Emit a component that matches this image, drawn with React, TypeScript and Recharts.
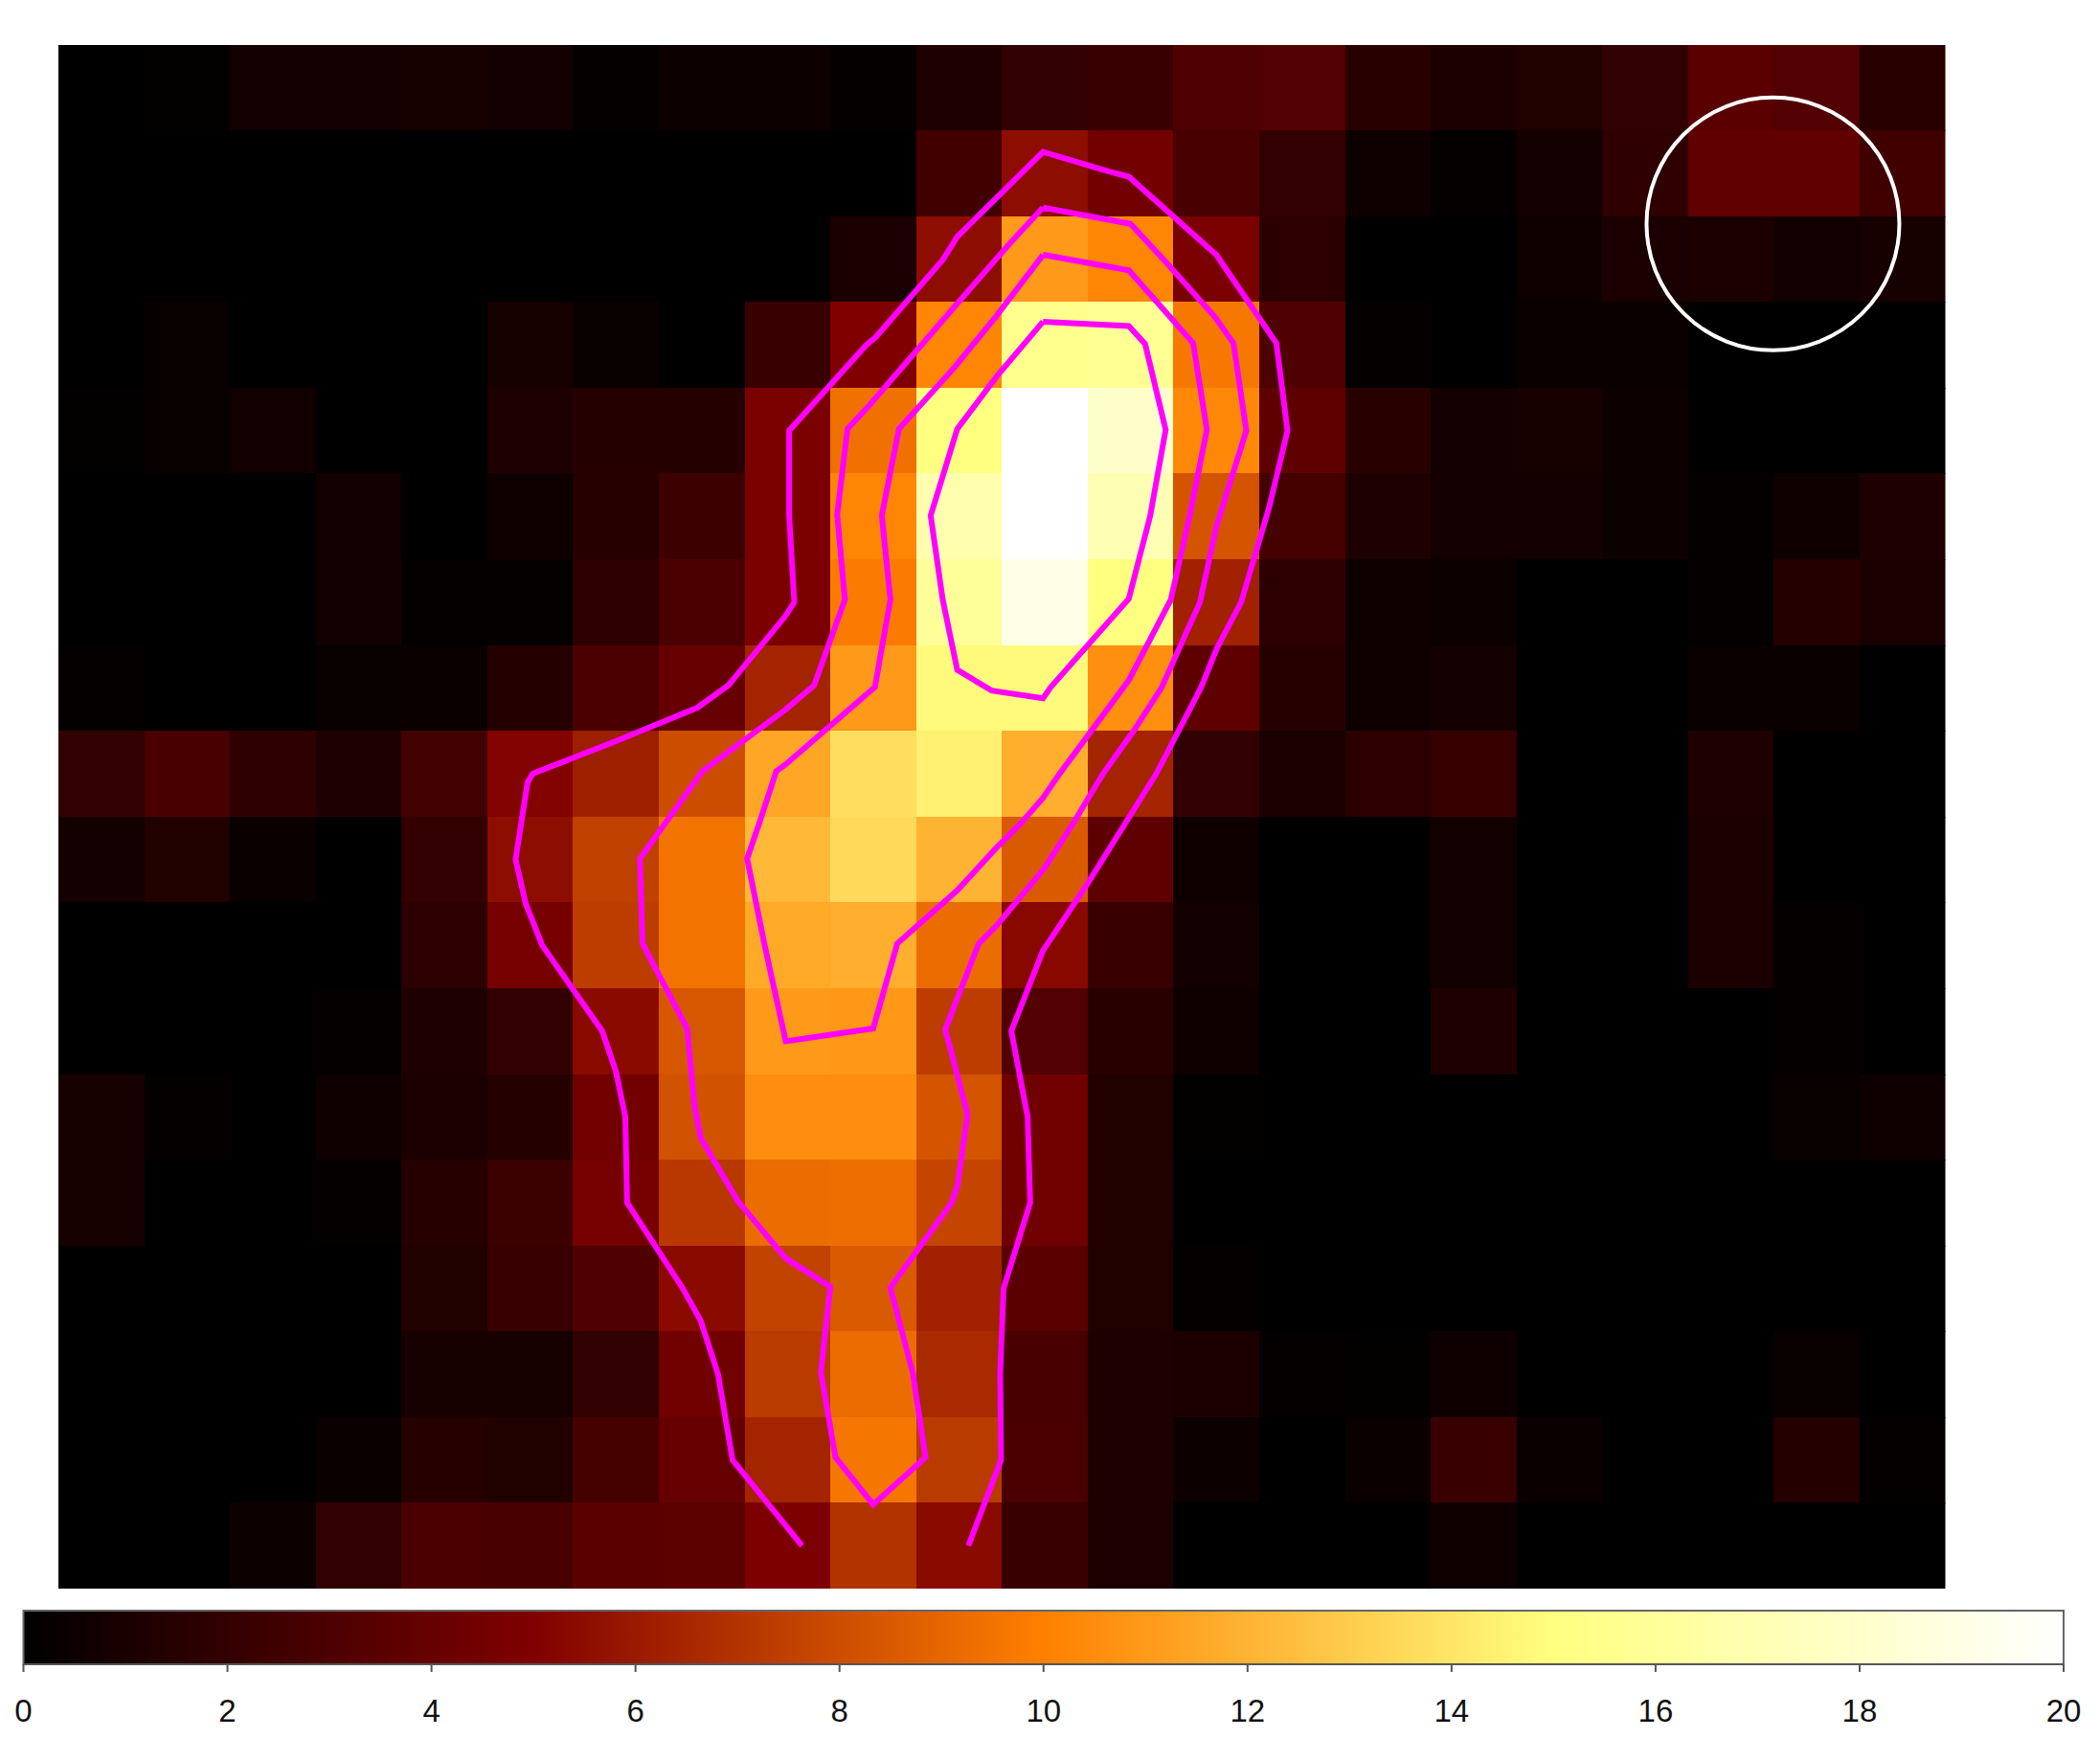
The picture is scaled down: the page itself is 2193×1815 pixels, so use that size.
import React from "react";
import {
  ScatterChart,
  Scatter,
  XAxis,
  YAxis,
  ReferenceDot,
  ReferenceArea,
  ComposedChart,
  Area,
} from "recharts";

// Image rows, top to bottom, 22 columns each (values on the 0-20 colour scale)
const row00 = [0, 0.1, 0.8, 0.8, 0.9, 0.8, 0.2, 0.5, 0.5, 0.2, 1.2, 1.9, 2.2, 3.1, 3.2, 1.6, 1.1, 1.3, 1.9, 3.5, 3.2, 1.6];
const row01 = [0, 0, 0, 0, 0.05, 0.05, 0, 0, 0, 0, 2.5, 5.5, 4.5, 2.8, 2.0, 0.6, 0.2, 0.8, 1.8, 3.8, 3.8, 2.5];
const row02 = [0, 0, 0, 0, 0, 0, 0, 0, 0, 1.0, 5.5, 11.0, 10.2, 4.8, 1.7, 0, 0, 0.6, 1.0, 1.1, 0.7, 0.9];
const row03 = [0, 0.3, 0, 0, 0, 0.9, 0.3, 0, 2.2, 5.0, 10.2, 15.5, 15.8, 9.7, 3.1, 0.2, 0, 0.4, 0.4, 0, 0, 0];
const row04 = [0.1, 0.3, 0.7, 0, 0, 1.2, 1.4, 1.4, 4.8, 9.4, 15.0, 20, 18.0, 10.3, 3.7, 1.6, 0.8, 0.9, 0.5, 0, 0, 0];
const row05 = [0, 0, 0, 0.7, 0, 0.6, 1.5, 2.4, 4.8, 10.2, 16.8, 20, 17.0, 8.3, 2.7, 1.2, 0.8, 0.8, 0.5, 0.2, 0.6, 1.2];
const row06 = [0, 0, 0, 0.7, 0.2, 0.2, 1.7, 2.9, 4.8, 9.8, 16.0, 19.0, 15.0, 6.3, 1.7, 0.6, 0.5, 0, 0, 0.2, 1.4, 1.0];
const row07 = [0.2, 0, 0, 0.3, 0.4, 1.4, 2.9, 4.0, 6.4, 11.0, 14.8, 14.8, 10.6, 3.7, 1.5, 0.6, 0.8, 0, 0, 0.4, 0.4, 0];
const row08 = [2.0, 2.8, 1.8, 1.2, 2.6, 5.1, 6.2, 8.0, 11.5, 13.7, 14.4, 11.8, 6.4, 1.9, 1.0, 1.7, 2.1, 0, 0, 1.2, 0, 0];
const row09 = [0.8, 1.3, 0.4, 0, 2.0, 5.5, 7.5, 9.5, 12.2, 13.5, 12.0, 8.5, 3.7, 0.6, 0, 0, 0.7, 0, 0, 1.0, 0, 0];
const row10 = [0, 0, 0, 0, 1.7, 4.6, 7.4, 9.5, 11.6, 11.8, 9.2, 5.3, 2.2, 0.7, 0, 0, 0.7, 0, 0, 1.0, 0.2, 0];
const row11 = [0, 0, 0, 0.2, 1.2, 2.0, 5.4, 8.4, 11.0, 10.9, 7.4, 3.2, 1.6, 0.6, 0, 0, 1.2, 0, 0, 0, 0.2, 0];
const row12 = [0.9, 0.2, 0, 0.6, 1.1, 1.4, 4.5, 8.2, 10.5, 10.5, 8.3, 4.4, 1.3, 0.1, 0, 0, 0, 0, 0, 0, 0.3, 0.6];
const row13 = [0.9, 0, 0, 0.2, 1.5, 2.3, 4.6, 7.2, 9.2, 9.3, 7.7, 4.4, 1.3, 0, 0, 0, 0, 0, 0, 0, 0, 0];
const row14 = [0, 0, 0, 0, 1.3, 2.2, 3.1, 5.4, 7.6, 8.5, 6.3, 3.5, 1.3, 0.2, 0, 0, 0, 0, 0, 0, 0, 0];
const row15 = [0, 0, 0, 0, 0.9, 0.9, 1.9, 4.4, 7.3, 9.2, 6.6, 2.8, 1.2, 1.1, 0.2, 0.1, 0.6, 0, 0, 0, 0.3, 0];
const row16 = [0, 0, 0, 0.4, 1.5, 1.3, 2.7, 4.0, 6.4, 9.6, 7.3, 2.9, 1.2, 0.5, 0, 0.4, 2.2, 0.4, 0, 0, 1.4, 0.2];
const row17 = [0, 0, 0.5, 1.9, 2.9, 2.8, 3.5, 3.6, 4.9, 7.0, 5.4, 2.2, 1.2, 0, 0, 0, 0.6, 0, 0, 0, 0, 0];
const imageRows = [row00, row01, row02, row03, row04, row05, row06, row07, row08, row09, row10, row11, row12, row13, row14, row15, row16, row17];

// Contours, in image-cell coordinates [column, row]
const contourOuter = [
  [8.67, 17.5], [7.86, 16.5], [7.69, 15.5], [7.49, 14.88], [7.28, 14.5], [6.63, 13.5], [6.61, 12.5], [6.5, 11.97],
  [6.34, 11.5], [5.64, 10.5], [5.45, 10.02], [5.33, 9.5], [5.47, 8.6], [5.53, 8.5], [6.5, 8.12], [7.45, 7.73],
  [7.81, 7.47], [8.47, 6.67], [8.58, 6.5], [8.52, 5.5], [8.52, 4.5], [9.42, 3.5], [9.53, 3.41], [10.31, 2.51],
  [10.48, 2.24], [11.48, 1.25], [12.25, 1.48], [12.48, 1.54], [13.5, 2.45], [14.2, 3.48], [14.33, 4.5], [14.12, 5.38],
  [13.79, 6.5], [13.51, 7.03], [13.32, 7.5], [12.8, 8.5], [12.0, 9.78], [11.48, 10.56], [11.11, 11.5], [11.3, 12.5],
  [11.33, 13.5], [11.02, 14.5], [10.98, 15.5], [10.99, 16.5], [10.61, 17.5],
];
const contourSecond = [
  [11.48, 1.9], [12.5, 2.09], [12.89, 2.51], [13.48, 3.17], [13.7, 3.48], [13.85, 4.5], [13.5, 5.62], [13.31, 6.5],
  [12.86, 7.5], [12.53, 8.01], [12.18, 8.5], [11.83, 9.08], [11.49, 9.61], [10.93, 10.28], [10.73, 10.48], [10.34, 11.48],
  [10.6, 12.47], [10.48, 13.31], [10.41, 13.51], [9.7, 14.49], [9.96, 15.48], [10.11, 16.47], [9.5, 17.02], [9.06, 16.47],
  [8.89, 15.48], [9.0, 14.48], [8.48, 14.15], [7.92, 13.48], [7.49, 12.75], [7.42, 12.4], [7.33, 11.47], [6.81, 10.48],
  [6.78, 9.49], [7.51, 8.47], [8.48, 7.75], [8.81, 7.47], [9.17, 6.47], [9.08, 5.48], [9.2, 4.48], [9.45, 4.21],
  [10.47, 3.03], [11.09, 2.32], [11.48, 1.9],
];
const contourThird = [
  [11.48, 2.45], [12.48, 2.63], [13.23, 3.48], [13.39, 4.49], [13.19, 5.49], [12.97, 6.47], [12.48, 7.41], [11.68, 8.49],
  [11.48, 8.78], [11.22, 9.08], [10.93, 9.37], [10.48, 9.86], [9.78, 10.48], [9.5, 11.47], [8.48, 11.62], [8.23, 10.48],
  [8.03, 9.49], [8.17, 9.08], [8.37, 8.47], [8.48, 8.39], [9.52, 7.49], [9.7, 6.47], [9.6, 5.49], [9.8, 4.48],
  [10.45, 3.76], [10.93, 3.17], [11.48, 2.45],
];
const contourInner = [
  [11.48, 3.23], [12.48, 3.28], [12.67, 3.49], [12.91, 4.49], [12.73, 5.49], [12.48, 6.46], [11.57, 7.49], [11.48, 7.62],
  [10.88, 7.53], [10.48, 7.29], [10.31, 6.47], [10.17, 5.49], [10.48, 4.48], [10.93, 3.88], [11.48, 3.23],
];
const contours = [contourOuter, contourSecond, contourThird, contourInner];

const regionCenter = { x: 19.99, y: 2.09 };

const colourStops = [0, 5, 10, 15, 20];
const colourStopRgb = [
  [0, 0, 0],
  [128, 0, 0],
  [255, 128, 0],
  [255, 255, 128],
  [255, 255, 255],
];
const colourbarTicks = [0, 2, 4, 6, 8, 10, 12, 14, 16, 18, 20];
const colourbarData = [
  { v: 0, h: 1 },
  { v: 20, h: 1 },
];

function heat(value: number): string {
  let i = 0;
  while (i < colourStops.length - 2 && value > colourStops[i + 1]) i++;
  const t = Math.max(0, Math.min(1, (value - colourStops[i]) / (colourStops[i + 1] - colourStops[i])));
  const a = colourStopRgb[i];
  const b = colourStopRgb[i + 1];
  const c = a.map((q, k) => Math.round(q + (b[k] - q) * t));
  return `rgb(${c[0]},${c[1]},${c[2]})`;
}

const cellData = imageRows.flatMap((row, r) =>
  row.map((value, c) => ({ x: c + 0.5, y: r + 0.5, value, lastCol: c === row.length - 1, lastRow: r === imageRows.length - 1 }))
);

const CELL_PX = 89.57;

function CellShape(props: any) {
  const { cx, cy, payload } = props;
  return (
    <rect
      x={cx - CELL_PX / 2}
      y={cy - CELL_PX / 2}
      width={CELL_PX + (payload.lastCol ? 0 : 1)}
      height={CELL_PX + (payload.lastRow ? 0 : 1)}
      fill={heat(payload.value)}
      shapeRendering="crispEdges"
    />
  );
}

const NoPoint = () => null;

export default function App() {
  return (
    <div style={{ position: "absolute", left: 0, top: 0, width: 2193, height: 1815, background: "#fff", overflow: "hidden" }}>
      <div style={{ position: "absolute", left: 0, top: 0 }}>
        <ScatterChart width={2193} height={1670} margin={{ left: 61, right: 161.5, top: 46.6, bottom: 11 }}>
          <XAxis type="number" dataKey="x" domain={[0, 22]} hide allowDataOverflow />
          <YAxis type="number" dataKey="y" domain={[0, 18]} reversed hide allowDataOverflow />
          <Scatter data={cellData} shape={CellShape} isAnimationActive={false} />
          {contours.map((pts, i) => (
            <Scatter
              key={i}
              data={pts.map(([x, y]) => ({ x, y }))}
              line={{ stroke: "#ff00ff", strokeWidth: 6 }}
              lineType="joint"
              shape={NoPoint}
              isAnimationActive={false}
            />
          ))}
          <ReferenceDot
            x={regionCenter.x}
            y={regionCenter.y}
            r={132}
            fill="none"
            stroke="#ffffff"
            strokeWidth={4}
            ifOverflow="visible"
          />
        </ScatterChart>
      </div>
      <div style={{ position: "absolute", left: 0, top: 1670 }}>
        <ComposedChart width={2193} height={145} data={colourbarData} margin={{ left: 24.5, right: 38, top: 12, bottom: 0 }}>
          <defs>
            <linearGradient id="heatBar" x1="0" y1="0" x2="1" y2="0">
              {colourStops.map((s, i) => (
                <stop key={s} offset={s / 20} stopColor={`rgb(${colourStopRgb[i].join(",")})`} />
              ))}
            </linearGradient>
          </defs>
          <XAxis
            type="number"
            dataKey="v"
            domain={[0, 20]}
            ticks={colourbarTicks}
            interval={0}
            height={77}
            tickSize={8}
            tickMargin={29}
            axisLine={{ stroke: "#555", strokeWidth: 2 }}
            tickLine={{ stroke: "#555", strokeWidth: 2 }}
            tick={{ fill: "#111", fontSize: 33, fontFamily: "Liberation Sans" }}
          />
          <YAxis type="number" domain={[0, 1]} hide />
          <Area dataKey="h" type="linear" fill="url(#heatBar)" fillOpacity={1} stroke="none" isAnimationActive={false} dot={false} activeDot={false} />
          <ReferenceArea x1={0} x2={20} y1={0} y2={1} fill="none" stroke="#666" strokeWidth={2} ifOverflow="visible" />
        </ComposedChart>
      </div>
    </div>
  );
}
